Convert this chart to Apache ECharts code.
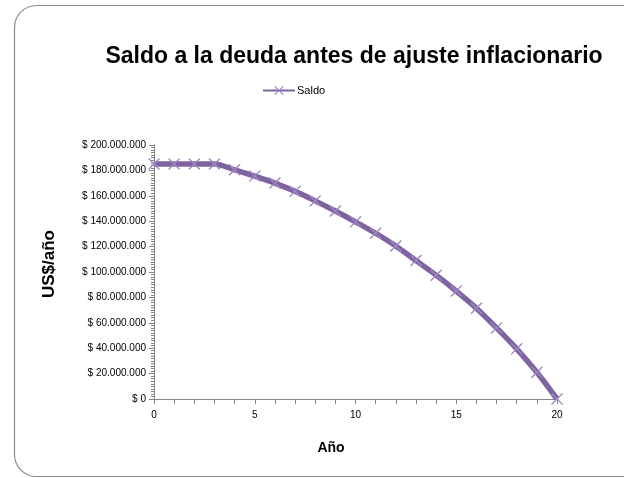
<!DOCTYPE html>
<html>
<head>
<meta charset="utf-8">
<script src="https://cdn.jsdelivr.net/npm/echarts@6/dist/echarts.min.js"></script>
<style>
  html, body { margin: 0; padding: 0; background: #ffffff; }
  #chart { width: 624px; height: 478px; }
</style>
</head>
<body>
<div id="chart"></div>
<script>
// Años del crédito (0 a 20)
const years = [0, 1, 2, 3, 4, 5, 6, 7, 8, 9, 10, 11, 12, 13, 14, 15, 16, 17, 18, 19, 20];
// Saldo de la deuda al cierre de cada año (US$)
const saldo = [185000000, 185000000, 185000000, 185000000, 180500000, 175500000, 170000000,
  163500000, 156000000, 148000000, 139500000, 130500000, 120500000, 109000000, 97500000,
  85000000, 71500000, 56000000, 39500000, 21000000, 0];

const titleText = 'Saldo a la deuda antes de ajuste inflacionario';
const seriesName = 'Saldo';
const yAxisName = 'US$/año';
const xAxisName = 'Año';

const font = "'Liberation Sans Narrow', 'Liberation Sans', sans-serif";

function fmtMoney(v) {
  const s = Math.round(v).toString().replace(/\B(?=(\d{3})+(?!\d))/g, '.');
  return '$ ' + s;
}

// Aspa delgada para los marcadores
const crossPath = 'path://M0,0.8L0.8,0L5,4.2L9.2,0L10,0.8L5.8,5L10,9.2L9.2,10L5,5.8L0.8,10L0,9.2L4.2,5Z';

const chart = echarts.init(document.getElementById('chart'), null, { renderer: 'canvas' });

chart.setOption({
  backgroundColor: '#ffffff',
  animation: false,
  graphic: [{
    type: 'rect',
    shape: { x: 14.5, y: 5.5, width: 640, height: 471, r: 22 },
    style: { fill: 'none', stroke: '#8c8c8c', lineWidth: 1.2 },
    silent: true
  }, {
    // título del eje vertical
    type: 'text',
    x: 49,
    y: 264,
    rotation: Math.PI / 2,
    style: {
      text: yAxisName,
      fontFamily: font, fontSize: 17, fontWeight: 'bold', fill: '#000000',
      align: 'center', verticalAlign: 'middle'
    },
    silent: true
  }, {
    // título del eje horizontal
    type: 'text',
    x: 331,
    y: 448,
    style: {
      text: xAxisName,
      fontFamily: font, fontSize: 14, fontWeight: 'bold', fill: '#000000',
      align: 'center', verticalAlign: 'middle'
    },
    silent: true
  }],
  title: {
    text: titleText,
    left: 349,
    textAlign: 'center',
    top: 40,
    textStyle: { fontFamily: font, fontSize: 23, fontWeight: 'bold', color: '#000000' }
  },
  legend: {
    data: [seriesName],
    left: 257,
    top: 80,
    itemWidth: 32,
    itemHeight: 12,
    itemGap: 2,
    textStyle: { fontFamily: font, fontSize: 11, color: '#000000', padding: [0, 0, 0, -3] }
  },
  grid: { left: 154, right: 67, top: 145, bottom: 79 },
  xAxis: {
    type: 'value',
    min: 0,
    max: 20,
    interval: 5,
    axisLine: { show: true, lineStyle: { color: '#868686', width: 1 } },
    axisTick: { show: true, length: 5, lineStyle: { color: '#868686' } },
    minorTick: { show: true, splitNumber: 5, length: 5, lineStyle: { color: '#868686' } },
    splitLine: { show: false },
    axisLabel: { fontFamily: font, fontSize: 10, color: '#000000', margin: 11 }
  },
  yAxis: {
    type: 'value',
    min: 0,
    max: 200000000,
    interval: 20000000,
    axisLine: { show: true, lineStyle: { color: '#868686', width: 1 } },
    axisTick: { show: true, length: 5, lineStyle: { color: '#868686' } },
    minorTick: { show: true, splitNumber: 10, length: 3, lineStyle: { color: '#868686' } },
    splitLine: { show: false },
    axisLabel: { fontFamily: font, fontSize: 10, color: '#000000', margin: 8, formatter: fmtMoney }
  },
  series: [{
    name: seriesName,
    type: 'line',
    data: years.map((y, i) => [y, saldo[i]]),
    smooth: 0.3,
    symbol: crossPath,
    symbolSize: 12,
    showAllSymbol: true,
    lineStyle: { color: '#7f63a1', width: 5.5 },
    itemStyle: { color: '#9e88c2', borderWidth: 0 },
    z: 3
  }]
});
</script>
</body>
</html>
